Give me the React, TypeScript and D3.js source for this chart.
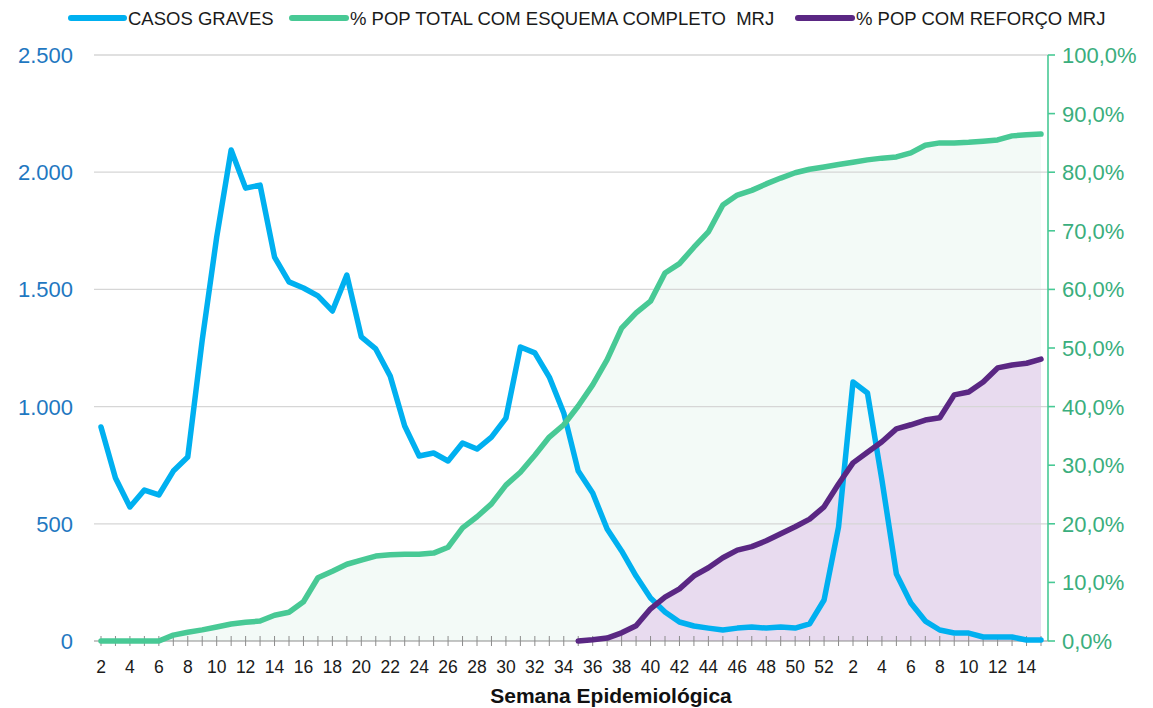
import React from "react";
import * as d3 from "d3";

// Semana epidemiológica: 2021 (2..52) and 2022 (1..15)
const weeks: string[] = [
  "2", "3", "4", "5", "6", "7", "8", "9", "10", "11", "12", "13", "14", "15", "16", "17", "18", "19", "20", "21",
  "22", "23", "24", "25", "26", "27", "28", "29", "30", "31", "32", "33", "34", "35", "36", "37", "38", "39", "40", "41",
  "42", "43", "44", "45", "46", "47", "48", "49", "50", "51", "52",
  "1", "2", "3", "4", "5", "6", "7", "8", "9", "10", "11", "12", "13", "14", "15",
];

const casosGraves: number[] = [
  913, 695, 572, 644, 623, 725, 785, 1284, 1723, 2095,
  1932, 1945, 1638, 1532, 1506, 1472, 1408, 1561, 1297, 1246,
  1130, 917, 789, 802, 768, 845, 819, 870, 951, 1254,
  1229, 1126, 973, 725, 631, 478, 384, 277, 183, 124,
  81, 64, 55, 47, 55, 60, 55, 60, 55, 73,
  175, 486, 1105, 1058, 687, 286, 162, 85, 47, 34,
  34, 17, 17, 17, 4, 4,
];

const esquemaCompleto: number[] = [
  0, 0, 0, 0, 0, 1.0, 1.5, 1.9, 2.4, 2.9,
  3.2, 3.4, 4.4, 4.9, 6.7, 10.8, 11.9, 13.1, 13.8, 14.5,
  14.7, 14.8, 14.8, 15.0, 16.0, 19.3, 21.2, 23.4, 26.6, 28.8,
  31.7, 34.8, 36.9, 40.1, 43.7, 48.0, 53.4, 56.0, 58.0, 62.8,
  64.4, 67.2, 69.8, 74.4, 76.1, 76.9, 78.0, 79.0, 79.9, 80.5,
  80.9, 81.3, 81.7, 82.1, 82.4, 82.6, 83.3, 84.6, 85.0, 85.0,
  85.1, 85.3, 85.5, 86.2, 86.4, 86.5,
];

const reforco: (number | null)[] = [
  null, null, null, null, null, null, null, null, null, null,
  null, null, null, null, null, null, null, null, null, null,
  null, null, null, null, null, null, null, null, null, null,
  null, null, null, 0, 0.2, 0.5, 1.4, 2.6, 5.5, 7.5,
  8.9, 11.1, 12.5, 14.2, 15.5, 16.1, 17.1, 18.3, 19.5, 20.8,
  22.9, 26.8, 30.4, 32.2, 34.0, 36.2, 36.9, 37.7, 38.1, 42.0,
  42.5, 44.2, 46.6, 47.1, 47.4, 48.1,
];

const leftTicks: number[] = [0, 500, 1000, 1500, 2000, 2500];
const rightTicks: number[] = [0, 10, 20, 30, 40, 50, 60, 70, 80, 90, 100];
const gridTicks: number[] = [500, 1000, 1500, 2000, 2500];

const seriesNames = [
  "CASOS GRAVES",
  "% POP TOTAL COM ESQUEMA COMPLETO  MRJ",
  "% POP COM REFORÇO MRJ",
];

const BLUE = "#00b0f0";
const GREEN = "#48c995";
const PURPLE = "#5a2783";
const FONT = "'Liberation Sans', Arial, sans-serif";

const locale = d3.formatLocale({ decimal: ",", thousands: ".", grouping: [3], currency: ["R$", ""] });
const fmtLeft = locale.format(",.0f");
const fmtRight = locale.format(".1f");

export default function App() {
  const W = 1153;
  const H = 708;
  const plotLeft = 94;
  const plotRight = 1048;
  const x = d3.scalePoint<number>().domain(d3.range(weeks.length)).range([101, 1041]);
  const yL = d3.scaleLinear().domain([0, 2500]).range([641, 55]);
  const yR = d3.scaleLinear().domain([0, 100]).range([641, 55]);

  const lineL = d3
    .line<number>()
    .x((_, i) => x(i) as number)
    .y((d) => yL(d));
  const lineR = d3
    .line<number | null>()
    .defined((d) => d != null)
    .x((_, i) => x(i) as number)
    .y((d) => yR(d as number));
  const areaR = d3
    .area<number | null>()
    .defined((d) => d != null)
    .x((_, i) => x(i) as number)
    .y0(yR(0))
    .y1((d) => yR(d as number));

  const legendItems = [
    { name: seriesNames[0], color: BLUE, x1: 71, x2: 124, tx: 128 },
    { name: seriesNames[1], color: GREEN, x1: 292, x2: 346, tx: 350 },
    { name: seriesNames[2], color: PURPLE, x1: 798, x2: 852, tx: 856 },
  ];

  return (
    <svg
      width={W}
      height={H}
      viewBox={`0 0 ${W} ${H}`}
      style={{ position: "absolute", left: 0, top: 0, background: "#fff" }}
      fontFamily={FONT}
    >
      {/* fills */}
      <path d={areaR(esquemaCompleto) || ""} fill="#f3faf7" />
      <path d={areaR(reforco) || ""} fill="#e8dbef" />

      {/* gridlines */}
      {gridTicks.map((t) => (
        <line key={t} x1={plotLeft} x2={plotRight} y1={yL(t)} y2={yL(t)} stroke="#d6d6d6" strokeWidth={1.3} />
      ))}

      {/* x axis */}
      <line x1={plotLeft} x2={plotRight} y1={yL(0)} y2={yL(0)} stroke="#8c8c8c" strokeWidth={1.2} />
      {weeks.map((w, i) => (
        <line key={"t" + i} x1={x(i)} x2={x(i)} y1={yL(0) - 5} y2={yL(0) + 5} stroke="#8c8c8c" strokeWidth={1} />
      ))}
      {weeks.map((w, i) =>
        i % 2 === 0 ? (
          <text key={"l" + i} x={x(i)} y={673} textAnchor="middle" fontSize={17.5} fill="#1a1a1a">
            {w}
          </text>
        ) : null
      )}
      <text x={611} y={703} textAnchor="middle" fontSize={21} fontWeight="bold" fill="#111">
        Semana Epidemiológica
      </text>

      {/* left axis labels */}
      {leftTicks.map((t) => (
        <text key={"yl" + t} x={73} y={yL(t)} dy="0.36em" textAnchor="end" fontSize={22} fill="#1f78c1">
          {fmtLeft(t)}
        </text>
      ))}

      {/* right axis */}
      <line x1={plotRight} x2={plotRight} y1={yR(100)} y2={yR(0)} stroke={GREEN} strokeWidth={1.6} />
      {rightTicks.map((t) => (
        <g key={"yr" + t}>
          <line x1={plotRight} x2={plotRight + 7} y1={yR(t)} y2={yR(t)} stroke={GREEN} strokeWidth={1.6} />
          <text x={1062} y={yR(t)} dy="0.36em" fontSize={22} fill="#3aae7d">
            {fmtRight(t) + "%"}
          </text>
        </g>
      ))}

      {/* lines */}
      <path
        d={lineL(casosGraves) || ""}
        fill="none"
        stroke={BLUE}
        strokeWidth={5.5}
        strokeLinejoin="round"
        strokeLinecap="round"
      />
      <path
        d={lineR(esquemaCompleto) || ""}
        fill="none"
        stroke={GREEN}
        strokeWidth={5.5}
        strokeLinejoin="round"
        strokeLinecap="round"
      />
      <path
        d={lineR(reforco) || ""}
        fill="none"
        stroke={PURPLE}
        strokeWidth={5.5}
        strokeLinejoin="round"
        strokeLinecap="round"
      />

      {/* legend */}
      {legendItems.map((it) => (
        <g key={it.name}>
          <line x1={it.x1} x2={it.x2} y1={18} y2={18} stroke={it.color} strokeWidth={6} strokeLinecap="round" />
          <text x={it.tx} y={24.5} fontSize={18.5} fill="#1a1a1a" style={{ whiteSpace: "pre" }}>
            {it.name}
          </text>
        </g>
      ))}
    </svg>
  );
}
